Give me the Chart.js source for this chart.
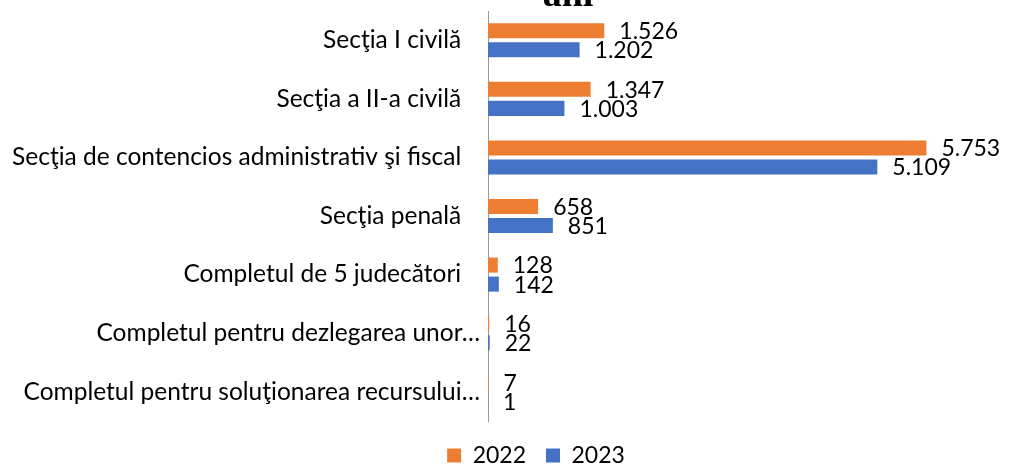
<!DOCTYPE html>
<html>
<head>
<meta charset="utf-8">
<script src="https://cdn.jsdelivr.net/npm/chart.js@4.4.1/dist/chart.umd.min.js"></script>
<style>
  html, body { margin: 0; padding: 0; background: #ffffff; }
  #wrap { width: 1010px; height: 466px; position: relative; overflow: hidden; }
  canvas { display: block; }
</style>
</head>
<body>
<div id="wrap"><canvas id="chart" width="1010" height="466"></canvas></div>
<script>
// ---- data ----
const categories = [
  "Secţia I civilă",
  "Secţia a II-a civilă",
  "Secţia de contencios administrativ şi fiscal",
  "Secţia penală",
  "Completul de 5 judecători",
  "Completul pentru dezlegarea unor…",
  "Completul pentru soluţionarea recursului…"
];
const seriesNames = ["2022", "2023"];
const values2022 = [1526, 1347, 5753, 658, 128, 16, 7];
const values2023 = [1202, 1003, 5109, 851, 142, 22, 1];
const titleText = "ani";

// ---- styling ----
const COLOR_2022 = "#ED7D31";
const COLOR_2023 = "#4472C4";
const FONT = "Lato";

function fmt(v) {
  return String(v).replace(/\B(?=(\d{3})+(?!\d))/g, ".");
}

const valueLabels = {
  id: "valueLabels",
  afterDatasetsDraw(chart) {
    const ctx = chart.ctx;
    ctx.save();
    ctx.font = "23px " + FONT;
    ctx.fillStyle = "#000000";
    ctx.textAlign = "left";
    ctx.textBaseline = "middle";
    chart.data.datasets.forEach((ds, i) => {
      const meta = chart.getDatasetMeta(i);
      meta.data.forEach((bar, j) => {
        ctx.fillText(fmt(ds.data[j]), bar.x + 15, bar.y + 1);
      });
    });
    ctx.restore();
  }
};

const clippedTitle = {
  id: "clippedTitle",
  afterDraw(chart) {
    const ctx = chart.ctx;
    ctx.save();
    ctx.font = 'bold 38px "Liberation Serif"';
    ctx.fillStyle = "#000000";
    ctx.textAlign = "center";
    ctx.textBaseline = "alphabetic";
    ctx.fillText(titleText, 568, 6);
    ctx.restore();
  }
};

const legendShift = {
  id: "legendShift",
  afterLayout(chart) {
    const l = chart.legend;
    if (!l) return;
    const dx = 31, dy = 3;
    l.left += dx; l.right += dx;
    l.top += dy; l.bottom += dy;
  }
};

new Chart(document.getElementById("chart"), {
  type: "bar",
  data: {
    labels: categories,
    datasets: [
      { label: seriesNames[0], data: values2022, backgroundColor: COLOR_2022, borderWidth: 0 },
      { label: seriesNames[1], data: values2023, backgroundColor: COLOR_2023, borderWidth: 0 }
    ]
  },
  options: {
    indexAxis: "y",
    responsive: false,
    animation: false,
    events: [],
    categoryPercentage: 0.65,
    barPercentage: 0.79,
    layout: { padding: { top: 11, bottom: 0, left: 0, right: 0 } },
    scales: {
      x: {
        display: false,
        min: 0,
        max: 6850
      },
      y: {
        grid: { display: false, drawTicks: false },
        border: { display: true, color: "#999999", width: 1 },
        ticks: {
          color: "#000000",
          font: { family: FONT, size: 24.5 },
          padding: 8,
          callback: function (value, index) {
            const lab = categories[index];
            return lab.endsWith("…") ? lab : lab + "   ";
          }
        },
        afterFit: function (scale) {
          scale.width = 488;
          scale.paddingTop = 0;
          scale.paddingBottom = 0;
        }
      }
    },
    plugins: {
      title: { display: false },
      tooltip: { enabled: false },
      legend: {
        display: true,
        position: "bottom",
        maxHeight: 45,
        labels: {
          color: "#000000",
          font: { family: FONT, size: 23 },
          boxWidth: 14,
          boxHeight: 14,
          padding: 20
        }
      }
    }
  },
  plugins: [valueLabels, clippedTitle, legendShift]
});
</script>
</body>
</html>
